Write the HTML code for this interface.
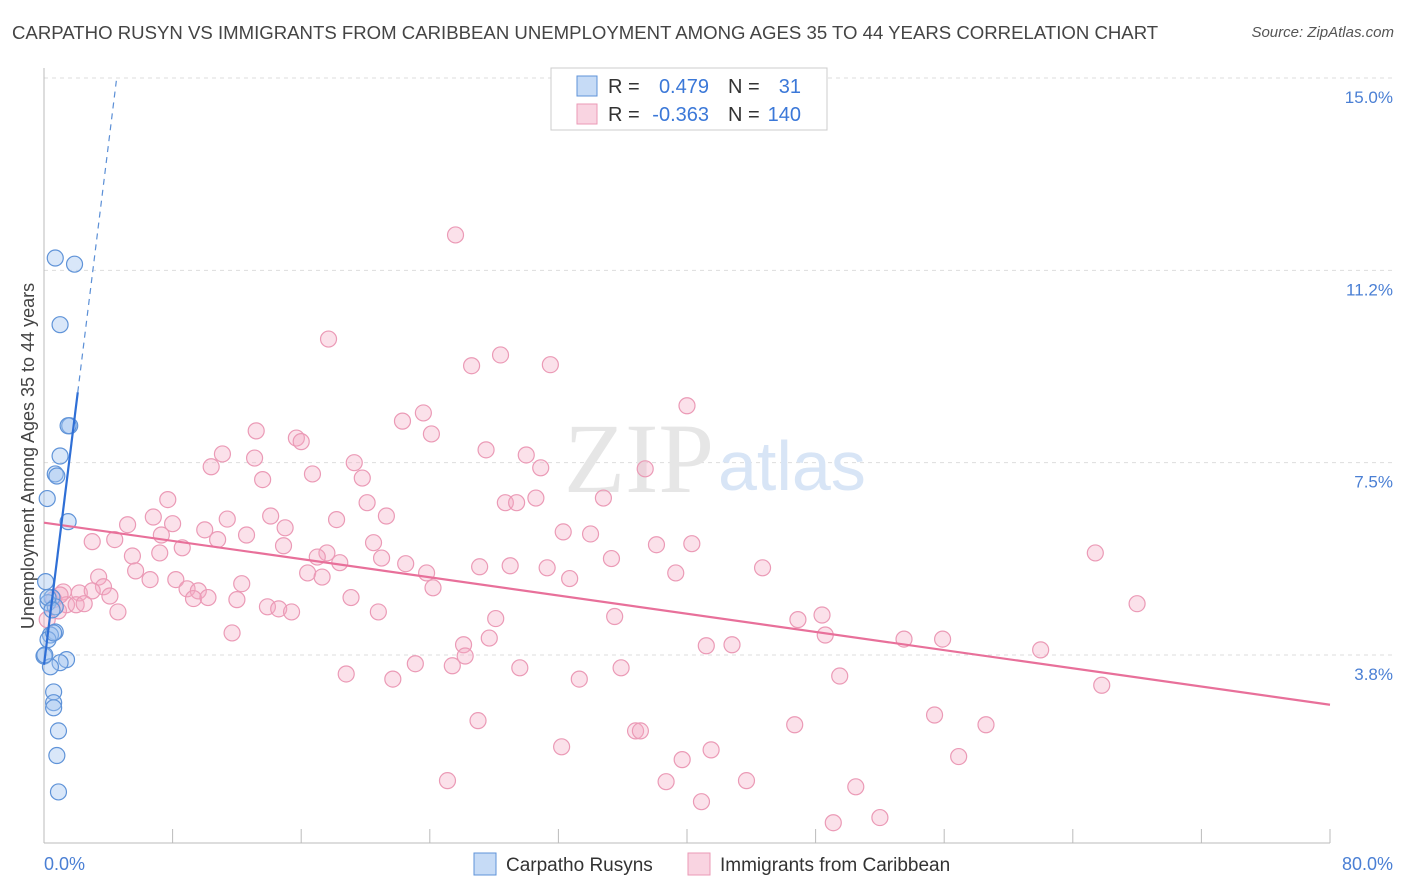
<!DOCTYPE html>
<html><head><meta charset="utf-8">
<style>
body{margin:0;background:#fff;font-family:"Liberation Sans",sans-serif;}
#wrap{position:relative;width:1406px;height:892px;overflow:hidden;}
.t{position:absolute;white-space:nowrap;}
</style></head>
<body>
<div id="wrap">
<div class="t" style="left:12px;top:22px;font-size:18.6px;color:#444;">CARPATHO RUSYN VS IMMIGRANTS FROM CARIBBEAN UNEMPLOYMENT AMONG AGES 35 TO 44 YEARS CORRELATION CHART</div>
<div class="t" style="right:12px;top:24px;font-size:15px;color:#555;font-style:italic;">Source: ZipAtlas.com</div>
<svg id="chart" width="1406" height="892" style="position:absolute;left:0;top:0;"></svg>
</div>
<script>
const blueX=[0.7,1.9,1.0,1.6,1.5,1.0,0.7,0.8,1.5,0.2,0.1,0.5,0.25,0.7,0.7,0.4,0.25,0,1.4,1.0,0.4,0.6,0.6,0.6,0.9,0.8,0.9,0.25,0.5,0.6,0.05];
const blueY=[11.49,11.37,10.19,8.22,8.22,7.63,7.28,7.24,6.35,6.80,5.18,4.87,4.77,4.69,4.20,4.14,4.05,3.73,3.66,3.60,3.52,3.03,2.82,2.72,2.27,1.79,1.08,4.87,4.63,4.18,3.75];
const pinkX=[25.6,17.7,28.4,26.6,31.5,40.0,23.6,22.3,24.1,13.2,15.7,16.0,27.5,11.1,10.4,13.1,19.3,30.0,37.4,30.9,16.7,19.8,13.6,7.7,28.7,29.4,30.6,34.8,20.1,21.3,6.8,5.2,11.4,14.1,18.2,8.0,10.0,15.0,32.3,34.0,7.3,10.8,12.6,3.0,4.4,8.6,20.5,38.1,40.3,5.5,7.2,14.9,17.6,17.0,18.4,21.0,22.5,27.1,29.0,31.3,35.3,39.3,44.7,65.4,3.4,5.7,6.6,8.2,12.3,16.4,17.3,23.8,32.7,24.2,3.7,1.2,2.2,3.0,4.1,8.9,9.6,9.3,10.2,12.0,19.1,1.4,2.0,2.5,4.6,13.9,14.6,15.4,20.8,28.1,35.5,46.9,48.4,68.0,48.6,27.7,26.1,26.2,11.7,53.5,55.9,62.0,41.2,42.8,23.1,25.4,29.6,35.9,18.8,21.7,33.3,49.5,65.8,27.0,46.7,55.4,58.6,36.8,37.1,32.2,41.5,39.7,56.9,25.1,38.7,43.7,50.5,40.9,49.1,52.0,0.2,0.6,0.9,1.0];
const pinkY=[11.94,9.91,9.60,9.39,9.41,8.61,8.47,8.31,8.06,8.12,7.98,7.91,7.75,7.67,7.42,7.59,7.50,7.65,7.38,7.40,7.28,7.20,7.17,6.78,6.72,6.72,6.81,6.81,6.72,6.46,6.44,6.29,6.40,6.46,6.39,6.31,6.19,6.23,6.15,6.11,6.09,6.00,6.09,5.96,6.00,5.84,5.94,5.90,5.92,5.68,5.74,5.88,5.74,5.66,5.55,5.64,5.53,5.47,5.49,5.45,5.63,5.35,5.45,5.74,5.27,5.39,5.22,5.22,5.14,5.35,5.27,5.35,5.24,5.06,5.08,4.98,4.96,5.00,4.90,5.04,5.00,4.85,4.87,4.83,4.87,4.73,4.73,4.75,4.59,4.69,4.65,4.59,4.59,4.46,4.50,4.44,4.53,4.75,4.14,4.08,3.95,3.73,4.18,4.06,4.06,3.85,3.93,3.95,3.58,3.54,3.50,3.50,3.38,3.28,3.28,3.34,3.16,2.47,2.39,2.58,2.39,2.27,2.27,1.96,1.90,1.71,1.77,1.30,1.28,1.30,1.18,0.89,0.48,0.58,4.44,4.83,4.61,4.92];
const yTicks=[15.0,11.25,7.5,3.75];
const yTickLabels=["15.0%","11.2%","7.5%","3.8%"];
const xTickLabels=["0.0%","80.0%"];
const pinkTrend=[6.33,2.78];
const blueTrend=[3.56,2.53];
const legendR=["0.479","-0.363"];
const legendN=["31","140"];

const X0=44,X1=1330,Y15=78;
function sx(v){return X0+(v/80)*(X1-X0);}
function sy(v){return Y15+(15-v)*(655-Y15)/11.25;}
const svg=document.getElementById('chart');
const NS='http://www.w3.org/2000/svg';
function mk(tag,attrs,parent){const e=document.createElementNS(NS,tag);for(const k in attrs)e.setAttribute(k,attrs[k]);(parent||svg).appendChild(e);return e;}

yTicks.forEach((t,i)=>{
  const g=mk('line',{x1:X0,x2:1394,y1:sy(t),y2:sy(t),stroke:'#ddd','stroke-dasharray':'4,4'});
  
  
  const tx=mk('text',{x:1393,y:sy(t)+25,'text-anchor':'end','font-size':17,fill:'#4a7fd4','font-family':'Liberation Sans, sans-serif'});
  tx.textContent=yTickLabels[i];
  
  
});
const xa=mk('line',{x1:X0,x2:1330,y1:843,y2:843,stroke:'#bbb'});


const ya=mk('line',{x1:X0,x2:X0,y1:68,y2:843,stroke:'#bbb'});


for(let i=0;i<=10;i++){
  const tk=mk('line',{x1:sx(i*8),x2:sx(i*8),y1:829,y2:843,stroke:'#bbb'});
  
  
}
[[0,'start',44],[80,'end',1393]].forEach((d,i)=>{
  const tx=mk('text',{x:d[2],y:870,'text-anchor':d[1],'font-size':18,fill:'#4a7fd4','font-family':'Liberation Sans, sans-serif'});
  tx.textContent=xTickLabels[i];
  
  
});
const yt=mk('text',{x:0,y:0,transform:'translate(34,456) rotate(-90)','text-anchor':'middle','font-size':18,fill:'#444','font-family':'Liberation Sans, sans-serif'});
yt.textContent='Unemployment Among Ages 35 to 44 years';


const wm=mk('text',{x:714,y:492,'text-anchor':'end','font-size':100,fill:'#e6e6e6','font-family':'Liberation Serif, serif'});
wm.textContent='ZIP';


const wm2=mk('text',{x:718,y:490,'font-size':70,fill:'#d8e5f6','font-family':'Liberation Sans, sans-serif'});
wm2.textContent='atlas';



pinkX.forEach((x,i)=>{
  const c=mk('circle',{cx:sx(x),cy:sy(pinkY[i]),r:8,fill:'rgba(244,170,196,0.35)',stroke:'#eb9ab6','stroke-width':1.2});
  
  
});
blueX.forEach((x,i)=>{
  const c=mk('circle',{cx:sx(x),cy:sy(blueY[i]),r:8,fill:'rgba(160,195,240,0.4)',stroke:'#5f93d8','stroke-width':1.2});
  
  
});
const pl=mk('line',{x1:sx(0),y1:sy(pinkTrend[0]),x2:sx(80),y2:sy(pinkTrend[1]),stroke:'#e8709a','stroke-width':2.2});


const bs=mk('line',{x1:sx(0),y1:sy(blueTrend[0]),x2:sx(2.1),y2:sy(blueTrend[0]+blueTrend[1]*2.1),stroke:'#2f6fd6','stroke-width':2.2});


const bd=mk('line',{x1:sx(2.1),y1:sy(blueTrend[0]+blueTrend[1]*2.1),x2:sx(4.5),y2:sy(blueTrend[0]+blueTrend[1]*4.5),stroke:'#5b8fd6','stroke-width':1.2,'stroke-dasharray':'6,5'});



const lb=mk('rect',{x:551,y:68,width:276,height:62,fill:'#fff',stroke:'#ccc'});


[['rgba(160,195,240,0.6)','#5f93d8'],['rgba(244,170,196,0.5)','#eb9ab6']].forEach((c,i)=>{
  const y=76+i*28;
  const s=mk('rect',{x:577,y:y,width:20,height:20,fill:c[0],stroke:c[1]});
  
  
  const f={'font-size':20,'font-family':'Liberation Sans, sans-serif'};
  const t1=mk('text',Object.assign({x:608,y:y+17,fill:'#333'},f));
  t1.textContent='R =';
  
  
  const t2=mk('text',Object.assign({x:709,y:y+17,fill:'#3b78d8','text-anchor':'end'},f));
  t2.textContent=legendR[i];
  
  
  const t3=mk('text',Object.assign({x:728,y:y+17,fill:'#333'},f));
  t3.textContent='N =';
  
  
  const t4=mk('text',Object.assign({x:801,y:y+17,fill:'#3b78d8','text-anchor':'end'},f));
  t4.textContent=legendN[i];
  
  
});
[['rgba(160,195,240,0.6)','#5f93d8','Carpatho Rusyns',474],['rgba(244,170,196,0.5)','#eb9ab6','Immigrants from Caribbean',688]].forEach(d=>{
  const s=mk('rect',{x:d[3],y:853,width:22,height:22,fill:d[0],stroke:d[1]});
  
  
  const t=mk('text',{x:d[3]+32,y:871,'font-size':19,fill:'#333','font-family':'Liberation Sans, sans-serif'});
  t.textContent=d[2];
  
  
});
</script>
</body></html>
